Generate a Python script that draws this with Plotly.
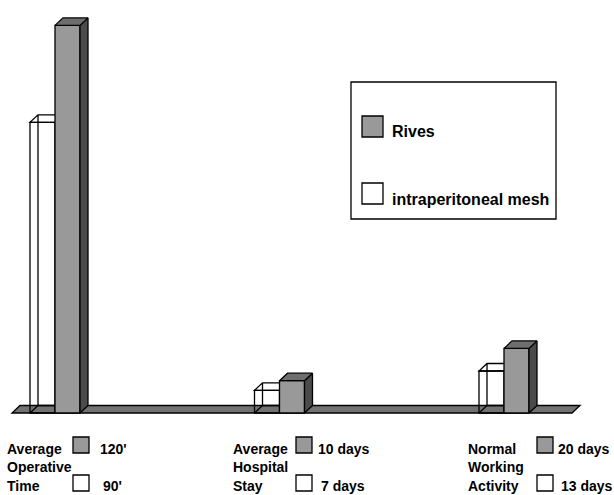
import plotly.graph_objects as go

# ---- data -------------------------------------------------------------
categories = ["Average Operative Time", "Average Hospital Stay", "Normal Working Activity"]
rives = [120, 10, 20]          # Rives technique
mesh = [90, 7, 13]             # intraperitoneal mesh
units = ["'", " days", " days"]
series_names = ["Rives", "intraperitoneal mesh"]

# ---- geometry / style -------------------------------------------------
W, H = 614, 495
X0_PX, X_STEP_PX = 55, 224.5        # pixel of first group centre, group spacing
BASE_PX, PX_PER_UNIT = 413, 3.23    # baseline pixel, pixels per value unit
BAR_W = 25 / X_STEP_PX
DX = 8 / X_STEP_PX                  # 3-D depth offset (x)
DY = 7.5 / PX_PER_UNIT              # 3-D depth offset (y)

FRONT = "#999999"
SIDE = "#4b4b4b"
TOP = "#6e6e6e"
FLOOR = "#727272"
EDGE = dict(color="black", width=1.3)
FONT = "Liberation Sans"

x_range = [-X0_PX / X_STEP_PX, (W - X0_PX) / X_STEP_PX]
y_range = [-(H - BASE_PX) / PX_PER_UNIT, BASE_PX / PX_PER_UNIT]
xpos = list(range(len(categories)))


def px_x(p):
    return p / W


def px_y(p):
    return 1 - p / H


fig = go.Figure()

# front faces of the bars
fig.add_trace(go.Bar(
    x=xpos, y=mesh, width=BAR_W, offset=-BAR_W, base=0,
    marker=dict(color="rgba(0,0,0,0)", line=EDGE),
    name=series_names[1], showlegend=False, hoverinfo="skip",
))
fig.add_trace(go.Bar(
    x=xpos, y=rives, width=BAR_W, offset=0, base=0,
    marker=dict(color=FRONT, line=EDGE),
    name=series_names[0], showlegend=False, hoverinfo="skip",
))

# side and top faces of the solid (Rives) bars
side_x, side_y, top_x, top_y = [], [], [], []
for xc, v in zip(xpos, rives):
    l, r = xc, xc + BAR_W
    side_x += [r, r + DX, r + DX, r, r, None]
    side_y += [0, DY, v + DY, v, 0, None]
    top_x += [l, r, r + DX, l + DX, l, None]
    top_y += [v, v, v + DY, v + DY, v, None]
fig.add_trace(go.Scatter(x=side_x, y=side_y, mode="lines", fill="toself",
                         fillcolor=SIDE, line=EDGE, showlegend=False, hoverinfo="skip"))
fig.add_trace(go.Scatter(x=top_x, y=top_y, mode="lines", fill="toself",
                         fillcolor=TOP, line=EDGE, showlegend=False, hoverinfo="skip"))

shapes = []

# floor slab
fl, fr = x_range[0] + 12 / X_STEP_PX, x_range[0] + 572 / X_STEP_PX
shapes.append(dict(
    type="path", xref="x", yref="y", layer="below",
    path=f"M {fl},0 L {fr},0 L {fr + DX},{DY} L {fl + DX},{DY} Z",
    fillcolor=FLOOR, line=EDGE,
))

# wire-frame edges of the transparent (mesh) bars
for xc, v in zip(xpos, mesh):
    l, r = xc - BAR_W, xc
    shapes.append(dict(
        type="path", xref="x", yref="y", layer="below",
        path=(f"M {l},{v} L {r},{v} L {r + DX},{v + DY} L {l + DX},{v + DY} Z "
              f"M {l + DX},{v + DY} L {l + DX},{DY} L {r + DX},{DY} L {r + DX},{v + DY} "
              f"M {l},0 L {l + DX},{DY}"),
        fillcolor="rgba(0,0,0,0)", line=EDGE,
    ))

annotations = []

# legend box
shapes.append(dict(type="rect", xref="paper", yref="paper",
                   x0=px_x(351), x1=px_x(556), y0=px_y(219), y1=px_y(82),
                   line=EDGE, fillcolor="white"))
legend_rows = [(series_names[0], FRONT, 116, 132), (series_names[1], "white", 183, 200)]
for label, color, sy, ty in legend_rows:
    shapes.append(dict(type="rect", xref="paper", yref="paper",
                       x0=px_x(362), x1=px_x(383), y0=px_y(sy + 21), y1=px_y(sy),
                       line=EDGE, fillcolor=color))
    annotations.append(dict(text=f"<b>{label}</b>", xref="paper", yref="paper",
                            x=px_x(390), y=px_y(ty), xanchor="left", yanchor="middle",
                            showarrow=False, font=dict(family=FONT, size=16, color="black")))

# category labels with their value keys below the floor
label_x = [5, 231, 466]
swatch_x = [73, 296, 537]
value_x = [98, 316, 556]
line_y = [449, 467, 486]
for i, cat in enumerate(categories):
    for word, ly in zip(cat.split(" "), line_y):
        annotations.append(dict(text=f"<b>{word}</b>", xref="paper", yref="paper",
                                x=px_x(label_x[i]), y=px_y(ly), xanchor="left",
                                yanchor="middle", showarrow=False,
                                font=dict(family=FONT, size=14, color="black")))
    for val, color, sy, ty, dx in [(rives[i], FRONT, 437, 449, 0),
                                   (mesh[i], "white", 475, 486, 3)]:
        shapes.append(dict(type="rect", xref="paper", yref="paper",
                           x0=px_x(swatch_x[i]), x1=px_x(swatch_x[i] + 16),
                           y0=px_y(sy + 16), y1=px_y(sy),
                           line=EDGE, fillcolor=color))
        annotations.append(dict(text=f"<b>{val}{units[i]}</b>", xref="paper", yref="paper",
                                x=px_x(value_x[i] + dx), y=px_y(ty), xanchor="left",
                                yanchor="middle", showarrow=False,
                                font=dict(family=FONT, size=14, color="black")))

fig.update_layout(
    width=W, height=H,
    margin=dict(l=0, r=0, t=0, b=0),
    paper_bgcolor="white", plot_bgcolor="white",
    barmode="overlay",
    xaxis=dict(range=x_range, visible=False, fixedrange=True),
    yaxis=dict(range=y_range, visible=False, fixedrange=True),
    shapes=shapes,
    annotations=annotations,
    showlegend=False,
)

fig.write_html("out.html")
